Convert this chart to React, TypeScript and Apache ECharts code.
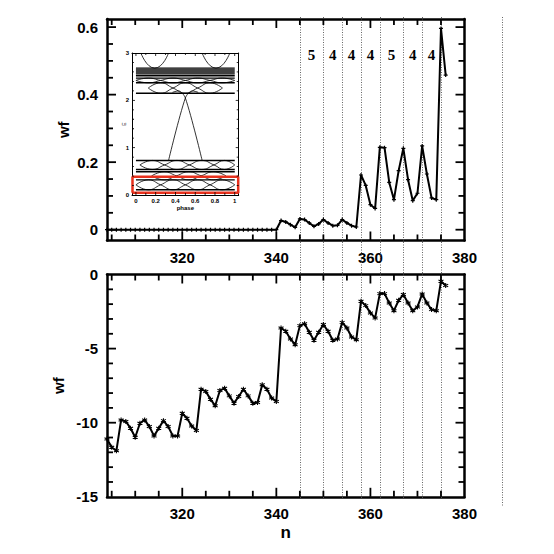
import React, { useEffect, useRef } from "react";
import * as echarts from "echarts";

// ---------- main data ----------
const nValues = [
  304, 305, 306, 307, 308, 309, 310, 311, 312, 313, 314, 315, 316, 317, 318, 319,
  320, 321, 322, 323, 324, 325, 326, 327, 328, 329, 330, 331, 332, 333, 334, 335,
  336, 337, 338, 339, 340, 341, 342, 343, 344, 345, 346, 347, 348, 349, 350, 351,
  352, 353, 354, 355, 356, 357, 358, 359, 360, 361, 362, 363, 364, 365, 366, 367,
  368, 369, 370, 371, 372, 373, 374, 375, 376,
];

const topWf = [
  0, 0, 0, 0, 0, 0, 0, 0, 0, 0, 0, 0, 0, 0, 0, 0,
  0, 0, 0, 0, 0, 0, 0, 0, 0, 0, 0, 0, 0, 0, 0, 0,
  0, 0, 0, 0, 0, 0.027, 0.023, 0.015, 0.007, 0.032, 0.030, 0.020, 0.010, 0.017, 0.030, 0.020,
  0.012, 0.013, 0.030, 0.020, 0.012, 0.008, 0.162, 0.131, 0.074, 0.063, 0.244, 0.243, 0.140, 0.089, 0.175, 0.241,
  0.148, 0.086, 0.108, 0.248, 0.165, 0.094, 0.089, 0.596, 0.458,
];

const bottomWf = [
  -11.1, -11.66, -11.89, -9.81, -9.92, -10.37, -10.98, -10.04, -9.81, -10.26, -10.89, -10.37, -9.86, -10.26, -10.89, -10.89,
  -9.36, -9.7, -10.22, -10.53, -7.74, -7.89, -8.41, -8.86, -7.83, -7.67, -8.19, -8.68, -8.23, -7.74, -8.19, -8.68,
  -8.63, -7.44, -7.74, -8.34, -8.57, -3.61, -3.83, -4.35, -4.74, -3.45, -3.32, -3.9, -4.44, -3.9, -3.38, -3.83,
  -4.44, -4.35, -3.23, -3.61, -4.22, -4.4, -1.8, -2.1, -2.59, -2.93, -1.29, -1.29, -1.92, -2.44, -1.74, -1.35,
  -1.92, -2.44, -2.19, -1.31, -1.92, -2.37, -2.44, -0.45, -0.74,
];

const dividers = [345, 350, 354, 358, 362, 367, 371, 375];
const farDivider = 388;
const gapLabelLevel = 0.517;

const xTickLabels = [320, 340, 360, 380];
const topYTickLabels = [0, 0.2, 0.4, 0.6];
const bottomYTickLabels = [-15, -10, -5, 0];

const xRange = [304, 380];
const topYRange = [-0.032, 0.624];
const bottomYRange = [-15, 0];

// tick steps [minor, major]
const xSteps = [5, 20];
const topYSteps = [0.05, 0.2];
const bottomYSteps = [1, 5];
const insetXSteps = [0.1, 0.2];
const insetYSteps = [0.2, 1];

// ---------- inset data (band picture) ----------
const insetBands = [0.11, 0.32, 0.49, 0.54, 0.73, 2.15, 2.37, 2.47, 2.52, 2.56, 2.6, 2.64, 2.68];
const lensLevels = [
  [0.11, 0.32],
  [0.32, 0.49],
  [0.54, 0.73],
  [2.15, 2.37],
  [2.37, 2.47],
];
const lensCrossings = [
  [0, 0.25, 0.5, 0.75, 1],
  [0.16, 0.41, 0.66, 0.91],
  [0.04, 0.29, 0.54, 0.79, 1],
  [0.125, 0.375, 0.625, 0.875],
  [0, 0.25, 0.5, 0.75, 1],
];
const upperArcs = [
  [[0.05, 3.0], [0.19, 2.68], [0.33, 3.0]],
  [[0.67, 3.0], [0.81, 2.68], [0.95, 3.0]],
];
const crossingLines = [
  [[0.33, 0.73], [0.5, 2.05], [0.57, 2.2], [0.63, 2.17]],
  [[0.67, 0.73], [0.5, 2.05], [0.43, 2.2], [0.37, 2.17]],
];
const redBox = [[-0.035, 0.05], [1.035, 0.05], [1.035, 0.385], [-0.035, 0.385], [-0.035, 0.05]];
const insetXLabels = [0, 0.2, 0.4, 0.6, 0.8, 1];
const insetYLabels = [0, 1, 2, 3];
const insetXRange = [-0.04, 1.04];
const insetYRange = [0, 3];

const FONT = "Liberation Sans";

function pick(labels: number[]) {
  return (v: number) => {
    const hit = labels.find((l) => Math.abs(l - v) < 1e-6);
    return hit === undefined ? "" : String(hit);
  };
}

function tickValues(min: number, max: number, step: number) {
  const out: number[] = [];
  for (let k = Math.ceil(min / step - 1e-9); k * step <= max + 1e-9; k++) out.push(k * step);
  return out;
}

function isMultiple(v: number, step: number) {
  return Math.abs(v / step - Math.round(v / step)) < 1e-6;
}

function axis(grid: number, position: string, range: number[], lineW: number, labelStep: number | null, labelList: number[] | null, fontSize: number, extra: any = {}) {
  return {
    type: "value",
    gridIndex: grid,
    position,
    min: range[0],
    max: range[1],
    ...(labelStep ? { minInterval: labelStep, maxInterval: labelStep } : {}),
    axisLine: { show: true, onZero: false, lineStyle: { color: "#000", width: lineW } },
    axisTick: { show: false },
    axisLabel: labelList
      ? { show: true, formatter: pick(labelList), fontFamily: FONT, fontWeight: "bold", fontSize, color: "#000", margin: fontSize > 10 ? 9 : 3 }
      : { show: false },
    splitLine: { show: false },
    ...extra,
  };
}

const plusSymbol = "path://M5,0L5,10M0,5L10,5";
const starSymbol = "path://M5,0L5,10M0.7,2.5L9.3,7.5M0.7,7.5L9.3,2.5";

export default function App() {
  const ref = useRef<HTMLDivElement>(null);

  useEffect(() => {
    if (!ref.current) return;
    const chart = echarts.init(ref.current, null, { renderer: "svg" });

    const insetLine = (data: number[][], width: number, color = "#000", smooth: any = false) => ({
      type: "line",
      xAxisIndex: 4,
      yAxisIndex: 4,
      data,
      symbol: "none",
      smooth,
      silent: true,
      lineStyle: { color, width },
      z: 5,
    });

    const insetSeries: any[] = [];
    insetBands.forEach((e) => insetSeries.push(insetLine([[0, e], [1, e]], 1.4)));
    lensLevels.forEach(([lo, hi], i) => {
      const cross = lensCrossings[i];
      const mid = (lo + hi) / 2;
      const a: number[][] = [];
      const b: number[][] = [];
      cross.forEach((c, k) => {
        a.push([c, mid]);
        b.push([c, mid]);
        if (k < cross.length - 1) {
          const m = (c + cross[k + 1]) / 2;
          a.push([m, k % 2 === 0 ? hi : lo]);
          b.push([m, k % 2 === 0 ? lo : hi]);
        }
      });
      insetSeries.push(insetLine(a, 0.8, "#000", 0.5));
      insetSeries.push(insetLine(b, 0.8, "#000", 0.5));
    });
    upperArcs.forEach((arc) => insetSeries.push(insetLine(arc, 0.8, "#000", 0.6)));
    crossingLines.forEach((l) => insetSeries.push(insetLine(l, 0.8, "#000", 0.3)));
    insetSeries.push(insetLine(redBox, 2.5, "#e8311d"));

    const nameStyle = (size: number, bold = true) => ({ fontFamily: FONT, fontWeight: bold ? "bold" : "normal", fontSize: size, color: "#000" });
    const wfName = (gap: number) => ({ name: "wf", nameLocation: "middle", nameRotate: 90, nameGap: gap, nameMoveOverlap: false, nameTextStyle: nameStyle(15) });

    const option: any = {
      animation: false,
      backgroundColor: "#fff",
      grid: [
        { left: 107, top: 19, width: 357.5, height: 221.5 },
        { left: 107, top: 274.5, width: 357.5, height: 222.3 },
        { left: 132, top: 53, width: 106.7, height: 142 },
      ],
      xAxis: [
        axis(0, "bottom", xRange, 2.5, xSteps[1], xTickLabels, 15),
        axis(0, "top", xRange, 2.5, null, null, 15),
        axis(1, "bottom", xRange, 2.5, xSteps[1], xTickLabels, 15, { name: "n", nameLocation: "middle", nameGap: 27, nameMoveOverlap: false, nameTextStyle: nameStyle(17) }),
        axis(1, "top", xRange, 2.5, null, null, 15),
        axis(2, "bottom", insetXRange, 1, insetXSteps[1], insetXLabels, 6, { name: "phase", nameLocation: "middle", nameGap: 10, nameMoveOverlap: false, nameTextStyle: nameStyle(6) }),
        axis(2, "top", insetXRange, 1, null, null, 6),
      ],
      yAxis: [
        axis(0, "left", topYRange, 2.5, topYSteps[1], topYTickLabels, 15, wfName(36)),
        axis(0, "right", topYRange, 2.5, null, null, 15),
        axis(1, "left", bottomYRange, 2.5, bottomYSteps[1], bottomYTickLabels, 15, wfName(41)),
        axis(1, "right", bottomYRange, 2.5, null, null, 15),
        axis(2, "left", insetYRange, 1, insetYSteps[1], insetYLabels, 6, { name: "E", nameLocation: "middle", nameRotate: 90, nameGap: 6, nameMoveOverlap: false, nameTextStyle: nameStyle(5, false) }),
        axis(2, "right", insetYRange, 1, null, null, 6),
      ],
      series: [
        {
          type: "line",
          xAxisIndex: 0,
          yAxisIndex: 0,
          data: nValues.map((n, i) => [n, topWf[i]]),
          symbol: plusSymbol,
          symbolSize: 4,
          showAllSymbol: true,
          lineStyle: { color: "#000", width: 2 },
          itemStyle: { color: "#000", borderColor: "#000", borderWidth: 1.2 },
          clip: true,
          z: 3,
        },
        {
          type: "line",
          xAxisIndex: 2,
          yAxisIndex: 2,
          data: nValues.map((n, i) => [n, bottomWf[i]]),
          symbol: starSymbol,
          symbolSize: 5,
          showAllSymbol: true,
          lineStyle: { color: "#000", width: 2 },
          itemStyle: { color: "#000", borderColor: "#000", borderWidth: 1.1 },
          clip: true,
          z: 3,
        },
        ...insetSeries,
      ],
    };

    chart.setOption(option);

    const toX = (xi: number, v: number) => Number(chart.convertToPixel({ xAxisIndex: xi }, v));
    const toY = (yi: number, v: number) => Number(chart.convertToPixel({ yAxisIndex: yi }, v));

    const graphics: any[] = [];

    // tick marks as small filled rectangles on all four sides of each frame
    const frameTicks = (xi: number, yi: number, xr: number[], yr: number[], xs: number[], ys: number[], minorLen: number, majorLen: number, w: number) => {
      const left = toX(xi, xr[0]);
      const right = toX(xi, xr[1]);
      const top = toY(yi, yr[1]);
      const bottom = toY(yi, yr[0]);
      const rect = (x: number, y: number, width: number, height: number) => ({
        type: "rect",
        silent: true,
        z: 20,
        shape: { x, y, width, height },
        style: { fill: "#000" },
      });
      tickValues(xr[0], xr[1], xs[0]).forEach((v) => {
        const x = toX(xi, v);
        if (Math.abs(x - left) < 1 || Math.abs(x - right) < 1) return;
        const len = isMultiple(v, xs[1]) ? majorLen : minorLen;
        graphics.push(rect(x - w / 2, bottom - len, w, len));
        graphics.push(rect(x - w / 2, top, w, len));
      });
      tickValues(yr[0], yr[1], ys[0]).forEach((v) => {
        const y = toY(yi, v);
        if (Math.abs(y - top) < 1 || Math.abs(y - bottom) < 1) return;
        const len = isMultiple(v, ys[1]) ? majorLen : minorLen;
        graphics.push(rect(left, y - w / 2, len, w));
        graphics.push(rect(right - len, y - w / 2, len, w));
      });
    };
    frameTicks(0, 0, xRange, topYRange, xSteps, topYSteps, 6, 9, 1.8);
    frameTicks(2, 2, xRange, bottomYRange, xSteps, bottomYSteps, 6, 9, 1.8);
    frameTicks(4, 4, insetXRange, insetYRange, insetXSteps, insetYSteps, 2, 3, 0.8);

    // dotted divider lines and gap labels
    const dotStyle = { stroke: "#555", lineWidth: 0.9, lineDash: [1, 1.5] };
    const topEdge = toY(0, topYRange[1]) - 2;
    const bottomEdge = toY(2, bottomYRange[0]) + 2;
    dividers.forEach((d) => {
      const x = Math.round(toX(0, d)) + 0.5;
      graphics.push({ type: "line", shape: { x1: x, y1: topEdge, x2: x, y2: bottomEdge }, style: { ...dotStyle }, z: 1, silent: true });
    });
    const fx = Math.round(toX(0, farDivider)) + 0.5;
    graphics.push({ type: "line", shape: { x1: fx, y1: topEdge, x2: fx, y2: bottomEdge + 8 }, style: { ...dotStyle }, z: 1, silent: true });

    for (let i = 0; i < dividers.length - 1; i++) {
      const mid = (dividers[i] + dividers[i + 1]) / 2;
      const p = chart.convertToPixel({ xAxisIndex: 0, yAxisIndex: 0 }, [mid, gapLabelLevel]) as number[];
      graphics.push({
        type: "text",
        x: p[0],
        y: p[1],
        z: 10,
        silent: true,
        style: {
          text: String(dividers[i + 1] - dividers[i]),
          fontFamily: "Liberation Serif",
          fontWeight: "bold",
          fontSize: 15,
          fill: "#000",
          align: "center",
          verticalAlign: "middle",
        },
      });
    }
    chart.setOption({ graphic: { elements: graphics } });

    return () => chart.dispose();
  }, []);

  return (
    <div
      ref={ref}
      style={{ position: "fixed", left: 0, top: 0, width: 554, height: 554, background: "#fff" }}
    />
  );
}
